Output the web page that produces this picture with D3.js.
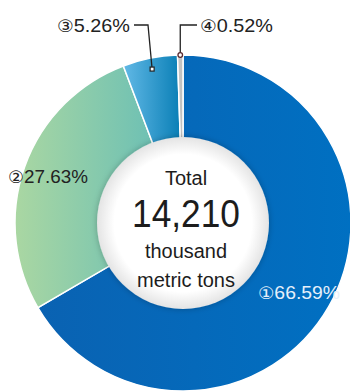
<!DOCTYPE html>
<html>
<head>
<meta charset="utf-8">
<script src="https://cdn.jsdelivr.net/npm/d3@7"></script>
<style>
  body { margin: 0; background: #fff; }
  svg { display: block; }
  .lbl { font-family: "Liberation Sans Narrow", "Arial Narrow", "Liberation Sans", sans-serif; font-size: 18px; }
  .num { font-family: "DejaVu Sans", sans-serif; font-size: 17px; }
  .mid { font-family: "Liberation Sans", Arial, sans-serif; fill: #1c1c1c; text-anchor: middle; }
</style>
</head>
<body>
<svg id="chart" width="350" height="392"></svg>
<script>
// shares of the total, clockwise from 12 o'clock
const names = ['①', '②', '③', '④'];
const shares = [66.59, 27.63, 5.26, 0.52];
const totalText = '14,210';
const centerLines = ['Total', totalText, 'thousand', 'metric tons'];

const svg = d3.select('#chart');
const cx = 183, cy = 223;
const outerR = 168, innerR = 86;

// gradients for each slice (horizontal)
const defs = svg.append('defs');
const grads = [
  ['g1', '#0a62b2', '#0070c2'],
  ['g2', '#aad7a2', '#6dc0b4'],
  ['g3', '#62b9e6', '#0a7fb6'],
  ['g4', '#c9c9c9', '#bdbdbd']
];
grads.forEach(g => {
  const lg = defs.append('linearGradient').attr('id', g[0])
    .attr('x1', '0%').attr('x2', '100%').attr('y1', '0%').attr('y2', '0%');
  lg.append('stop').attr('offset', '0%').attr('stop-color', g[1]);
  lg.append('stop').attr('offset', '100%').attr('stop-color', g[2]);
});
const rg = defs.append('radialGradient').attr('id', 'hole');
rg.append('stop').attr('offset', '0%').attr('stop-color', '#ffffff');
rg.append('stop').attr('offset', '80%').attr('stop-color', '#ffffff');
rg.append('stop').attr('offset', '100%').attr('stop-color', '#e4e4e4');
const sh = defs.append('filter').attr('id', 'shadow')
  .attr('x', '-20%').attr('y', '-20%').attr('width', '140%').attr('height', '140%');
sh.append('feGaussianBlur').attr('in', 'SourceAlpha').attr('stdDeviation', 3).attr('result', 'b');
sh.append('feFlood').attr('flood-color', '#000').attr('flood-opacity', 0.25);
sh.append('feComposite').attr('in2', 'b').attr('operator', 'in');
const m = sh.append('feMerge');
m.append('feMergeNode');
m.append('feMergeNode').attr('in', 'SourceGraphic');

const pie = d3.pie().sort(null).value(d => d);
const arcs = pie(shares);
const arc = d3.arc().innerRadius(innerR - 6).outerRadius(outerR);

const g = svg.append('g').attr('transform', `translate(${cx},${cy})`);

g.selectAll('path.slice')
  .data(arcs)
  .enter()
  .append('path')
  .attr('class', 'slice')
  .attr('d', arc)
  .attr('fill', (d, i) => `url(#${grads[i][0]})`)
  .attr('stroke', '#fff')
  .attr('stroke-width', 1.5);

// white centre disc
g.append('circle')
  .attr('r', innerR)
  .attr('fill', 'url(#hole)')
  .attr('filter', 'url(#shadow)');

// centre texts
const mid = svg.append('g').attr('transform', `translate(${cx + 3},0)`);
mid.append('text').attr('class', 'mid').attr('y', 185).attr('font-size', 20).text(centerLines[0]);
mid.append('text').attr('class', 'mid').attr('y', 227).attr('font-size', 38)
  .attr('textLength', 108).attr('lengthAdjust', 'spacingAndGlyphs').text(centerLines[1]);
mid.append('text').attr('class', 'mid').attr('y', 258).attr('font-size', 20)
  .attr('textLength', 82).attr('lengthAdjust', 'spacingAndGlyphs').text(centerLines[2]);
mid.append('text').attr('class', 'mid').attr('y', 287).attr('font-size', 20)
  .attr('textLength', 98).attr('lengthAdjust', 'spacingAndGlyphs').text(centerLines[3]);

const fmt = d3.format('.2f');

// label = circled number (own font) + percentage
function label(x, y, i, fill, len) {
  const t = svg.append('text').attr('class', 'lbl')
    .attr('x', x).attr('y', y).attr('fill', fill)
    .attr('textLength', len).attr('lengthAdjust', 'spacingAndGlyphs');
  t.append('tspan').attr('class', 'num').text(names[i]);
  t.append('tspan').text(fmt(shares[i]) + '%');
}

// ① inside the blue ring
label(258, 299, 0, '#e6f0fa', 82);
// ② on the green ring
label(8, 183, 1, '#222', 80);

// ③ with leader line to the slice
const a3 = (arcs[2].startAngle + arcs[2].endAngle) / 2;
const r3 = outerR - 11;
const p3 = [cx + r3 * Math.sin(a3), cy - r3 * Math.cos(a3)];
label(57, 32, 2, '#222', 73);
svg.append('polyline')
  .attr('points', `134,25 148,25 ${p3[0]},${p3[1]}`)
  .attr('fill', 'none').attr('stroke', '#222').attr('stroke-width', 1.3);
svg.append('rect')
  .attr('x', p3[0] - 2).attr('y', p3[1] - 2).attr('width', 4).attr('height', 4)
  .attr('fill', '#fff').attr('stroke', '#222').attr('stroke-width', 1.2);

// ④ with leader line to the thin slice
const a4 = (arcs[3].startAngle + arcs[3].endAngle) / 2;
const p4 = [cx + outerR * Math.sin(a4), cy - outerR * Math.cos(a4)];
label(200, 32, 3, '#222', 73);
svg.append('polyline')
  .attr('points', `197,25 ${p4[0]},25 ${p4[0]},${p4[1]}`)
  .attr('fill', 'none').attr('stroke', '#222').attr('stroke-width', 1.3);
svg.append('circle')
  .attr('cx', p4[0]).attr('cy', p4[1]).attr('r', 2.3)
  .attr('fill', '#fff').attr('stroke', '#5a2a30').attr('stroke-width', 1.3);
</script>
</body>
</html>
